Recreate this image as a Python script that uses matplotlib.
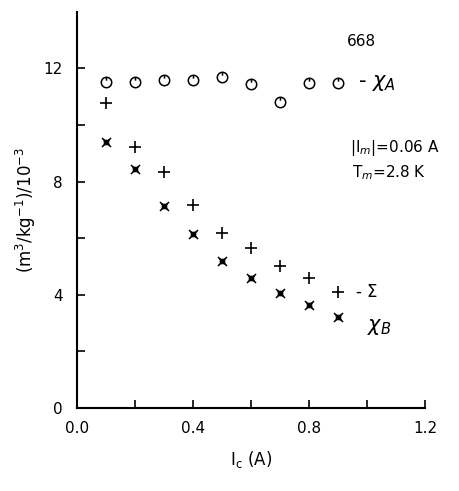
import matplotlib
matplotlib.use('Agg')
import matplotlib.pyplot as plt
import numpy as np
from matplotlib.path import Path

ic = [0.1, 0.2, 0.3, 0.4, 0.5, 0.6, 0.7, 0.8, 0.9]
chi_a = [11.53, 11.53, 11.59, 11.59, 11.68, 11.44, 10.83, 11.48, 11.48]
sigma = [10.77, 9.23, 8.34, 7.18, 6.19, 5.66, 5.03, 4.61, 4.11]
chi_b = [9.39, 8.44, 7.15, 6.14, 5.19, 4.61, 4.08, 3.65, 3.20]

# circle with a short tick from the top
circ = Path.unit_circle()
tick = Path([(0, 1), (0, 0.35)], [Path.MOVETO, Path.LINETO])
circ_tick = Path.make_compound_path(circ, tick)

# square with crossed diagonals
sq = Path([(-0.45, -0.45), (0.45, -0.45), (0.45, 0.45), (-0.45, 0.45), (-0.45, -0.45)],
          [Path.MOVETO] + [Path.LINETO] * 4)
cross = Path([(-1, -1), (1, 1), (-1, 1), (1, -1)],
             [Path.MOVETO, Path.LINETO, Path.MOVETO, Path.LINETO])
sq_cross = Path.make_compound_path(sq, cross)

fig = plt.figure(figsize=(4.6, 4.91), dpi=100)
ax = fig.add_axes([0.167, 0.169, 0.757, 0.807])

ax.plot(ic, chi_a, ls='none', marker=circ_tick, ms=7.5, mfc='none', mec='k', mew=1.1)
ax.plot(ic, sigma, ls='none', marker='+', ms=9, mec='k', mew=1.2)
ax.plot(ic, chi_b, ls='none', marker=sq_cross, ms=6.5, mfc='none', mec='k', mew=1.1)

ax.set_xlim(0, 1.2)
ax.set_ylim(0, 14)
ax.set_xticks([0.0, 0.4, 0.8, 1.2])
ax.set_xticklabels(['0.0', '0.4', '0.8', '1.2'])
ax.set_xticks([0.2, 0.6, 1.0], minor=True)
ax.set_yticks([0, 4, 8, 12])
ax.set_yticks([2, 6, 10], minor=True)
ax.tick_params(direction='in', length=6, width=1.2, labelsize=11)
ax.tick_params(axis='x', pad=9)
ax.tick_params(axis='y', pad=10)
ax.tick_params(which='minor', direction='in', length=6, width=1.2)
for s in ['top', 'right']:
    ax.spines[s].set_visible(False)
for s in ['left', 'bottom']:
    ax.spines[s].set_linewidth(1.5)

ax.set_xlabel(r'I$_\mathrm{c}$ (A)', fontsize=12, labelpad=10)
ax.set_ylabel(r'(m$^3$/kg$^{-1}$)/10$^{-3}$', fontsize=12)

ax.text(0.93, 12.8, '668', fontsize=11)
ax.text(0.97, 11.5, r'- $\chi_A$', fontsize=15, va='center')
ax.text(0.94, 9.2, r'|I$_m$|=0.06 A', fontsize=11, va='center')
ax.text(0.95, 8.3, r'T$_m$=2.8 K', fontsize=11, va='center')
ax.text(0.96, 4.1, r'- $\Sigma$', fontsize=12, va='center')
ax.text(1.0, 2.85, r'$\chi_B$', fontsize=15, va='center')

fig.savefig('out.png', dpi=100)
